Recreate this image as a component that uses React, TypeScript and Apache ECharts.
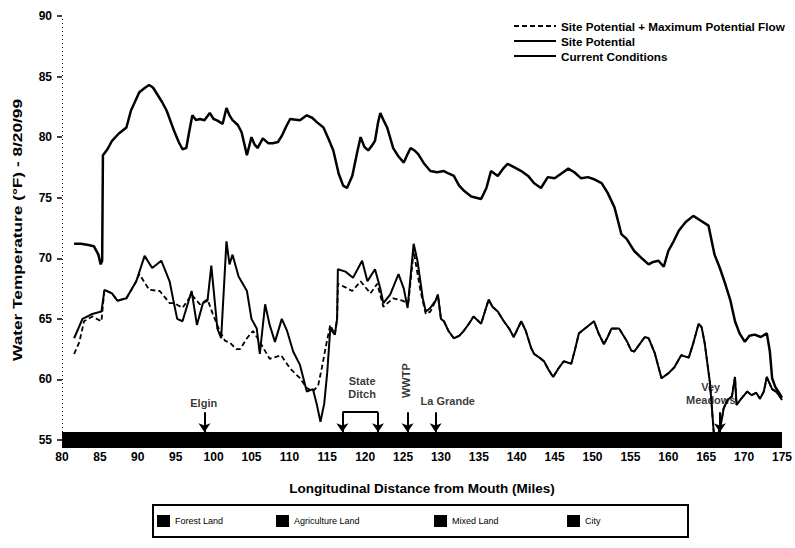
import React, { useEffect, useRef } from 'react';
import * as echarts from 'echarts';

// ---------- data (mile from mouth, water temperature °F) ----------
const currentConditions: [number, number][] = [
  [81.6, 71.2], [82.5, 71.2], [83.5, 71.1], [84.2, 71.0], [84.8, 70.3], [85.1, 69.5], [85.3, 69.8],
  [85.4, 78.5], [86.0, 79.0], [86.6, 79.7], [87.5, 80.3], [88.5, 80.8], [89.1, 82.2], [90.2, 83.7],
  [91.0, 84.1], [91.5, 84.3], [92.0, 84.1], [92.5, 83.6], [93.2, 82.9], [93.8, 82.2], [94.8, 80.5],
  [95.4, 79.6], [95.9, 79.0], [96.4, 79.1], [96.8, 80.5], [97.2, 81.8], [97.7, 81.4], [98.2, 81.5],
  [98.8, 81.4], [99.5, 82.0], [100.0, 81.5], [100.4, 81.4], [101.2, 81.1], [101.7, 82.4], [102.1, 81.8],
  [102.5, 81.4], [103.2, 81.0], [103.7, 80.4], [104.4, 78.5], [105.0, 80.0], [105.4, 79.4], [105.8, 79.1],
  [106.5, 79.9], [107.2, 79.5], [107.8, 79.5], [108.5, 79.6], [109.0, 80.1], [109.6, 80.9], [110.1, 81.5],
  [111.4, 81.4], [112.3, 81.8], [113.0, 81.6], [113.7, 81.2], [114.5, 80.8], [115.2, 79.8], [115.8, 78.9],
  [116.5, 77.0], [117.1, 76.0], [117.6, 75.8], [118.3, 76.8], [119.0, 78.9], [119.4, 80.0], [119.9, 79.2],
  [120.4, 78.9], [120.9, 79.3], [121.3, 79.7], [121.7, 81.2], [122.0, 82.0], [122.5, 81.3], [122.9, 80.8],
  [123.7, 79.1], [124.4, 78.4], [125.1, 77.9], [125.6, 78.6], [126.0, 79.1], [126.5, 78.9], [127.0, 78.6],
  [127.8, 77.8], [128.6, 77.2], [129.5, 77.1], [130.4, 77.2], [131.0, 77.0], [131.7, 76.8], [132.4, 76.0],
  [133.0, 75.6], [134.0, 75.1], [135.3, 74.9], [136.0, 75.8], [136.6, 77.2], [137.5, 76.8], [138.2, 77.4],
  [138.8, 77.8], [139.7, 77.5], [140.6, 77.2], [141.5, 76.8], [142.3, 76.2], [143.2, 75.8], [144.1, 76.7],
  [145.0, 76.6], [145.9, 77.0], [146.8, 77.4], [147.6, 77.1], [148.5, 76.6], [149.4, 76.7], [150.3, 76.5],
  [151.2, 76.2], [152.0, 75.4], [152.9, 74.2], [153.4, 73.0], [153.8, 72.0], [154.5, 71.6], [155.5, 70.6],
  [156.5, 70.0], [157.4, 69.5], [158.0, 69.7], [158.7, 69.8], [159.4, 69.3], [160.0, 70.6], [160.7, 71.4],
  [161.4, 72.3], [162.3, 73.0], [163.3, 73.5], [164.3, 73.1], [165.3, 72.7], [166.1, 70.3], [166.8, 69.2],
  [167.5, 67.9], [168.2, 66.5], [168.8, 64.8], [169.4, 63.8], [170.1, 63.1], [170.7, 63.6], [171.4, 63.7],
  [172.2, 63.5], [173.0, 63.8], [173.4, 62.3], [173.7, 60.1], [174.1, 59.4], [174.6, 58.9], [175.0, 58.5],
];

const sitePotentialHead: [number, number][] = [
  [81.6, 63.4], [82.7, 65.0], [84.0, 65.4], [85.2, 65.6], [85.6, 67.4], [86.6, 67.1], [87.3, 66.5],
  [88.5, 66.7], [89.8, 68.1], [90.9, 70.2], [91.9, 69.2], [93.1, 69.8], [94.2, 68.1], [94.8, 66.2],
  [95.2, 65.0], [95.9, 64.8], [97.1, 67.3], [97.8, 64.5], [98.6, 66.3], [99.2, 66.5], [99.7, 69.4],
  [100.5, 64.2], [101.0, 63.4], [101.7, 71.4], [102.1, 69.5], [102.5, 70.3], [103.3, 68.5], [104.4, 67.3],
  [105.0, 65.0], [105.7, 64.2], [106.1, 62.1], [106.8, 66.2], [107.4, 64.5], [108.1, 63.1], [109.0, 65.0],
  [109.7, 64.0], [110.5, 62.3], [111.4, 61.2], [112.3, 59.0], [113.1, 59.2], [113.6, 58.0], [114.1, 56.5],
  [114.6, 58.0], [115.0, 60.6], [115.4, 64.2], [116.0, 63.7], [116.3, 65.0], [116.4, 69.1], [117.4, 68.9],
  [118.4, 68.4], [119.6, 69.8], [120.3, 68.1], [121.3, 69.1], [122.0, 67.5], [122.4, 66.3], [123.3, 67.0],
  [124.4, 68.7], [125.1, 67.5], [125.6, 65.9], [126.4, 71.2], [126.9, 69.8], [127.6, 66.7], [128.0, 65.6],
  [128.6, 65.9],
];

const maxFlowHead: [number, number][] = [
  [81.6, 62.1], [82.3, 63.1], [82.9, 64.8], [84.0, 65.2], [85.2, 64.8], [85.6, 67.4], [86.6, 67.1],
  [87.3, 66.5], [88.5, 66.7], [89.8, 68.1], [90.2, 68.7], [91.5, 67.4], [92.9, 67.3], [94.2, 66.3],
  [94.8, 66.3], [95.9, 65.9], [97.1, 67.0], [98.2, 66.2], [99.2, 66.6], [99.9, 65.4], [100.8, 64.0],
  [101.5, 63.2], [102.2, 63.0], [103.0, 62.5], [103.5, 62.5], [104.4, 63.4], [105.2, 64.0], [106.0, 63.2],
  [107.4, 61.7], [108.9, 62.0], [110.1, 60.9], [111.4, 60.1], [112.3, 59.3], [113.1, 59.0], [113.8, 59.5],
  [114.3, 61.0], [114.9, 63.0], [115.4, 64.5], [116.0, 63.7], [116.3, 65.0], [116.4, 67.9], [117.4, 67.6],
  [118.3, 67.3], [119.4, 68.1], [120.7, 67.1], [121.6, 67.9], [122.4, 66.0], [123.7, 66.7], [124.9, 66.5],
  [125.7, 66.3], [126.4, 70.6], [127.3, 67.3], [128.0, 65.4], [128.6, 65.6],
];

const sharedTail: [number, number][] = [
  [129.3, 66.5], [129.6, 67.0], [130.0, 65.0], [130.4, 64.8], [131.0, 64.0], [131.7, 63.4], [132.4, 63.6],
  [133.0, 64.0], [133.7, 64.6], [134.3, 65.2], [135.3, 64.6], [136.3, 66.6], [136.8, 66.0], [137.5, 65.6],
  [138.3, 64.8], [139.0, 64.2], [139.6, 63.5], [140.6, 64.8], [141.2, 64.0], [141.9, 62.6], [142.3, 62.1],
  [143.0, 61.8], [143.6, 61.5], [144.2, 60.8], [144.8, 60.2], [145.5, 60.9], [146.2, 61.5], [147.2, 61.3],
  [147.7, 62.5], [148.2, 63.8], [149.2, 64.3], [150.2, 64.8], [150.8, 63.8], [151.5, 62.9], [152.0, 63.5],
  [152.5, 64.2], [153.5, 64.2], [154.5, 63.2], [155.1, 62.4], [155.5, 62.3], [156.9, 63.5], [157.4, 63.4],
  [158.2, 62.2], [159.1, 60.1], [160.0, 60.5], [160.8, 61.0], [161.7, 62.0], [162.7, 61.8], [163.3, 63.0],
  [164.0, 64.6], [164.4, 64.3], [164.8, 63.0], [165.5, 59.7], [166.0, 55.6], [166.3, 55.1], [166.6, 55.5],
  [167.0, 56.5], [167.3, 57.6], [167.8, 58.3], [168.4, 58.6], [168.8, 60.2], [169.0, 57.9], [169.6, 58.4],
  [170.4, 59.0], [171.0, 58.7], [171.6, 58.9], [172.1, 58.4], [172.6, 59.0], [173.0, 60.2], [173.7, 59.2],
  [174.2, 59.0], [174.6, 58.7], [175.0, 58.3],
];

const seriesNames = [
  'Site Potential + Maximum Potential Flow',
  'Site Potential',
  'Current Conditions',
];

const yTitle = 'Water Temperature (°F) - 8/20/99';
const xTitle = 'Longitudinal Distance from Mouth (Miles)';

const siteNames = ['Elgin', 'State\nDitch', 'WWTP', 'La Grande', 'Vey\nMeadows'];
const siteLabelMiles = [98.7, 119.6, 125.4, 130.9, 165.6];
const siteLabelTemps = [58.05, 59.3, 59.9, 58.2, 58.8];
const arrowMiles = [98.8, 117.0, 121.7, 125.6, 129.3, 166.8];

const landUse = ['Forest Land', 'Agriculture Land', 'Mixed Land', 'City'];

export default function App() {
  const ref = useRef<HTMLDivElement>(null);

  useEffect(() => {
    document.body.style.margin = '0';
    const chart = echarts.init(ref.current!, null, { renderer: 'svg' });
    const font = 'Liberation Sans, Arial, sans-serif';

    const arrowTop = 57.3;
    const arrowTip = 55.65;
    const markLines: any[] = arrowMiles.map((m) => [
      { coord: [m, arrowTop], symbol: 'none' },
      { coord: [m, arrowTip], symbol: 'arrow' },
    ]);
    // State Ditch bracket
    markLines.push([
      { coord: [arrowMiles[1], arrowTop], symbol: 'none' },
      { coord: [arrowMiles[2], arrowTop], symbol: 'none' },
    ]);

    const legendX = [157, 276, 434, 567];
    const graphic: any[] = [
      {
        type: 'text',
        x: 18,
        y: 230,
        rotation: Math.PI / 2,
        scaleX: 1.44,
        style: {
          text: yTitle,
          font: `bold 12px ${font}`,
          fill: '#000',
          align: 'center',
          verticalAlign: 'middle',
        },
      },
      {
        type: 'rect',
        shape: { x: 153, y: 505, width: 535, height: 32 },
        style: { fill: 'none', stroke: '#000', lineWidth: 2 },
        silent: true,
      },
    ];
    landUse.forEach((name, i) => {
      graphic.push({
        type: 'rect',
        shape: { x: legendX[i], y: 515, width: 13, height: 12 },
        style: { fill: '#000' },
      });
      graphic.push({
        type: 'text',
        x: legendX[i] + 18,
        y: 521,
        style: { text: name, font: `9px ${font}`, fill: '#000', verticalAlign: 'middle' },
      });
    });

    const option: any = {
      animation: false,
      backgroundColor: '#fff',
      grid: { left: 62, right: 12, top: 16, bottom: 108, containLabel: false },
      legend: {
        data: seriesNames,
        orient: 'vertical',
        left: 513,
        top: 20,
        padding: 0,
        itemGap: 3,
        itemWidth: 42,
        itemHeight: 10,
        selectedMode: false,
        itemStyle: { opacity: 0 },
        textStyle: { fontFamily: font, fontWeight: 'bold', fontSize: 11.7, color: '#000' },
      },
      xAxis: {
        type: 'value',
        min: 80,
        max: 175,
        interval: 5,
        name: xTitle,
        nameLocation: 'middle',
        nameGap: 41,
        nameTextStyle: { fontFamily: font, fontWeight: 'bold', fontSize: 13.5, color: '#000' },
        axisLine: { show: true, onZero: false, lineStyle: { color: '#000', width: 16, cap: 'butt' } },
        axisTick: { show: false },
        splitLine: { show: false },
        axisLabel: { margin: 11, fontFamily: font, fontWeight: 'bold', fontSize: 12, color: '#000' },
      },
      yAxis: {
        type: 'value',
        min: 55,
        max: 90,
        interval: 5,
        axisLine: { show: true, lineStyle: { color: '#000', width: 1, type: [1, 3], cap: 'butt' } },
        axisTick: { show: true, length: 5, lineStyle: { color: '#000', width: 1.5 } },
        splitLine: { show: false },
        axisLabel: { margin: 10, fontFamily: font, fontWeight: 'bold', fontSize: 12, color: '#000' },
      },
      series: [
        {
          name: seriesNames[0],
          type: 'line',
          data: maxFlowHead.concat(sharedTail),
          symbol: 'none',
          color: '#000',
          lineStyle: { color: '#000', width: 1.8, type: [5, 3] },
          z: 3,
        },
        {
          name: seriesNames[1],
          type: 'line',
          data: sitePotentialHead.concat(sharedTail),
          symbol: 'none',
          color: '#000',
          lineStyle: { color: '#000', width: 2 },
          z: 4,
        },
        {
          name: seriesNames[2],
          type: 'line',
          data: currentConditions,
          symbol: 'none',
          color: '#000',
          lineStyle: { color: '#000', width: 2.5 },
          z: 4,
        },
        {
          name: 'annotations',
          type: 'scatter',
          symbolSize: 1,
          itemStyle: { color: 'rgba(0,0,0,0)' },
          silent: true,
          z: 5,
          label: {
            show: true,
            position: 'inside',
            formatter: (p: any) => p.name,
            fontFamily: font,
            fontWeight: 'bold',
            fontSize: 11,
            lineHeight: 13,
            color: '#000',
          },
          data: siteNames.map((n, i) => ({
            name: n,
            value: [siteLabelMiles[i], siteLabelTemps[i]],
            label: n === 'WWTP' ? { rotate: 90 } : undefined,
          })),
          markLine: {
            silent: true,
            symbolSize: 9,
            label: { show: false },
            lineStyle: { color: '#000', width: 2, type: 'solid' },
            data: markLines,
          },
        },
      ],
      graphic,
    };

    chart.setOption(option);
    return () => chart.dispose();
  }, []);

  return <div ref={ref} style={{ width: 795, height: 548 }} />;
}
